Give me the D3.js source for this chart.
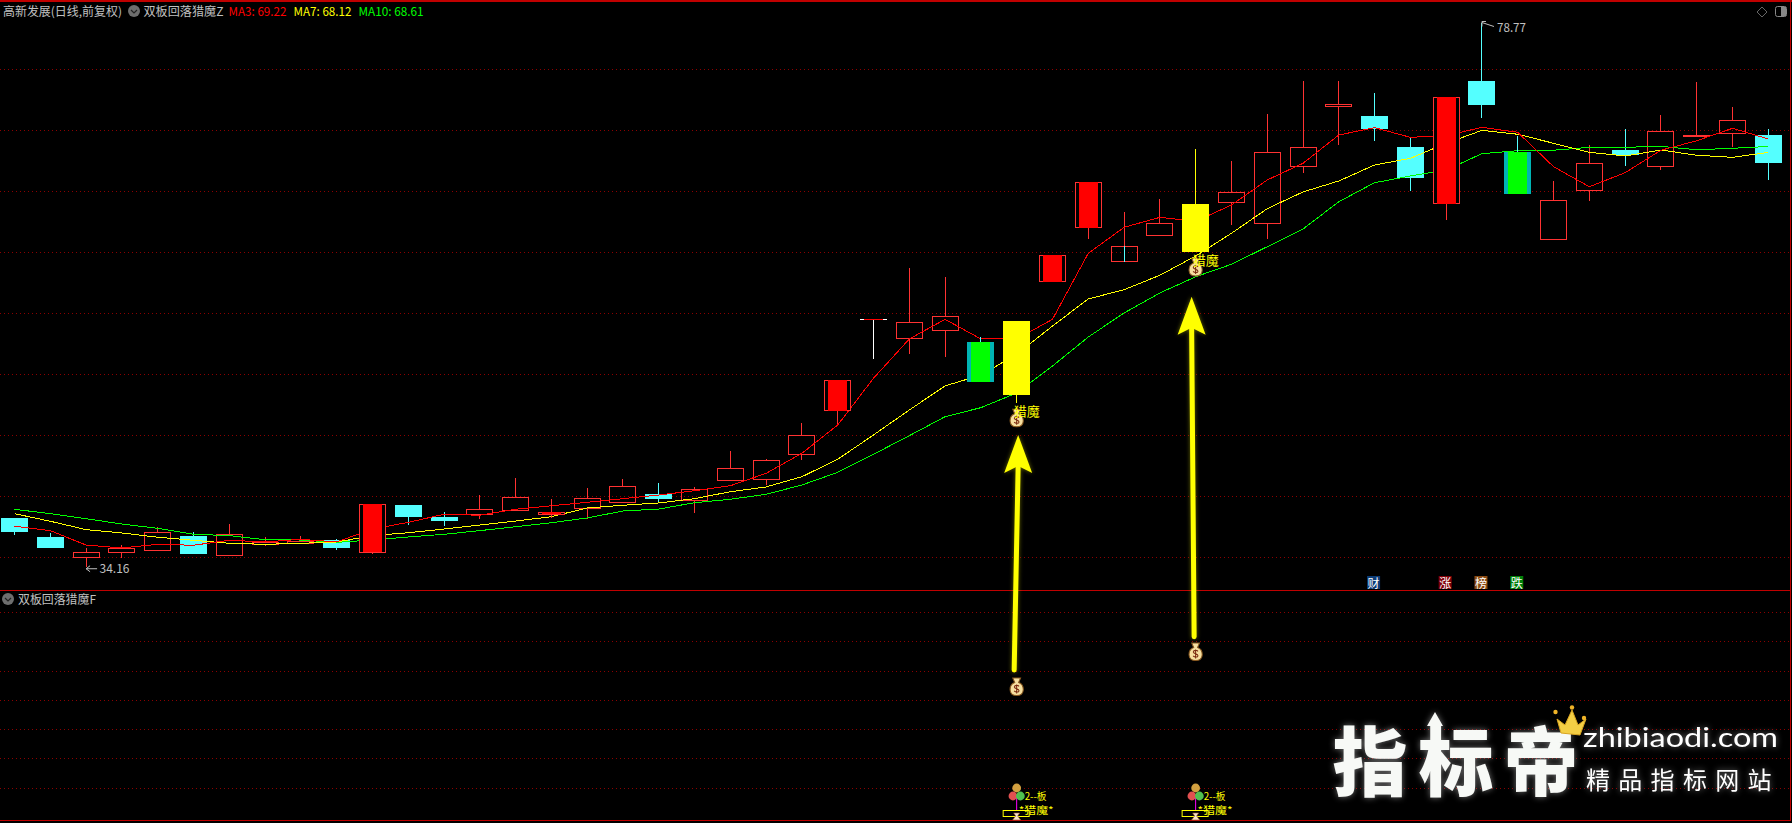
<!DOCTYPE html>
<html><head><meta charset="utf-8">
<style>
html,body{margin:0;padding:0;background:#000;overflow:hidden}
svg{display:block}
text{font-family:"Noto Sans CJK SC","Liberation Sans",sans-serif}
</style>
<script src="https://cdn.jsdelivr.net/npm/d3@7/dist/d3.min.js"></script>
</head><body><svg id="c" width="1792" height="823"></svg>
<script>
const kinds=["c","c","h","h","h","c","h","h","h","c","s","c","c","h","h","s","h","h","c","h","h","h","h","s","d","h","h","g","y","s","s","h","h","y","h","h","h","h","c","c","s","c","g","h","h","c","h","h","h","c"];
const bodyHigh=[38.16,36.60,35.35,35.67,36.98,36.68,36.82,36.21,36.30,36.35,39.30,39.22,38.24,38.87,39.88,38.65,39.80,40.75,40.12,40.51,42.23,42.89,44.94,49.44,54.44,54.20,54.74,52.58,54.30,59.69,65.67,60.43,62.31,63.89,64.85,68.13,68.54,72.07,71.11,68.57,72.64,73.98,68.18,64.20,67.23,68.32,69.85,69.57,70.75,69.55];
const bodyLow=[37.01,35.70,34.98,35.31,35.48,35.20,35.06,36.02,36.11,35.70,35.39,38.24,37.91,38.43,38.84,38.51,39.00,39.41,39.74,39.61,41.22,41.33,43.35,46.95,54.44,52.85,53.59,49.30,48.24,57.53,61.95,59.17,61.30,59.96,64.00,62.28,66.97,71.87,70.02,66.02,63.92,72.01,64.74,61.00,65.02,67.89,66.98,69.57,69.69,67.28];
const high=[38.16,36.93,35.70,35.94,37.39,37.01,37.66,36.60,36.68,36.44,39.30,39.22,38.65,40.04,41.44,39.71,40.61,41.35,41.02,40.70,43.65,42.99,45.94,49.44,54.44,58.65,57.91,52.97,54.30,59.69,65.67,63.24,64.30,68.40,67.42,71.27,73.98,73.98,72.99,69.30,72.64,78.77,69.47,65.75,68.73,70.04,71.19,73.89,71.84,70.04];
const low=[36.76,35.70,34.16,34.88,35.48,35.20,35.06,35.86,36.11,35.53,35.20,37.61,37.50,38.07,38.84,38.16,38.07,39.41,39.39,38.57,41.22,40.86,42.91,45.86,51.21,51.60,51.38,49.30,47.60,57.53,61.05,59.17,61.30,59.96,62.17,61.05,66.46,68.75,69.08,64.98,62.61,70.94,64.74,61.00,64.16,67.03,66.71,69.57,68.57,65.89];
const ma3=[37.48,37.12,35.94,35.70,36.00,35.92,36.33,36.19,36.41,36.19,37.25,37.80,38.46,38.38,38.87,39.16,39.44,39.74,40.04,40.39,40.80,41.82,43.46,45.78,49.61,52.83,54.44,52.83,52.83,54.44,59.85,61.98,62.80,62.47,63.81,65.86,67.23,69.55,70.15,69.36,69.49,70.18,69.77,66.95,65.31,66.46,68.30,69.08,70.10,69.22];
const ma7=[38.51,37.89,37.20,36.93,36.58,36.33,36.08,36.00,36.08,36.19,36.71,36.95,37.25,37.58,37.91,38.26,38.98,39.20,39.39,39.74,40.31,40.70,41.54,42.97,44.96,47.01,48.98,49.88,51.57,53.89,56.11,56.87,58.05,59.63,61.49,63.51,64.88,65.78,67.09,67.64,68.87,69.93,69.61,68.87,68.13,67.83,68.32,67.89,67.72,68.12];
const ma10=[38.87,38.51,38.10,37.66,37.31,36.82,36.71,36.38,36.35,36.16,36.35,36.60,36.82,37.12,37.44,37.77,38.16,38.73,38.89,39.41,39.69,40.10,40.86,41.90,43.38,44.90,46.46,47.20,48.40,50.61,52.99,54.96,56.60,57.93,58.95,60.39,61.84,64.08,65.64,66.19,66.68,68.02,68.26,68.30,68.54,68.54,68.62,68.34,68.46,68.61];
const priceTicks=[75,70,65,60,55,50,45,40,35];
const subTicks=[6,5,4,3,2,1,0];
const signalIdx=[28,33];
const newsLabels=["财","涨","榜","跌"];
const newsIdx=[38,40,41,42];
const newsFill=["#0b3b76","#800008","#8a4a12","#008008"];

const W=1792,H=823;
const svg=d3.select("#c");
const x=d3.scaleLinear().domain([0,49]).range([14.5,1768.3]);
const y=d3.scaleLinear().domain([75,35]).range([68.5,556.5]);
const ySub=d3.scaleLinear().domain([6,0]).range([612,787.5]);
const LINE="#c00000",UP="#ff3232",CY="#54ffff";
const crisp=g=>g.attr("shape-rendering","crispEdges");
const px=i=>Math.floor(x(i));

function grid(scale,vals){
  const g=svg.append("g").call(d3.axisRight(scale).tickValues(vals).tickSize(W-2).tickFormat(""));
  g.select(".domain").remove();
  g.selectAll("line").attr("stroke","#8c0000").attr("stroke-dasharray","1,3").attr("shape-rendering","crispEdges");
}
grid(y,priceTicks);grid(ySub,subTicks);

const frame=svg.append("g").call(crisp).attr("stroke",LINE).attr("stroke-width",1.5);
[[0,1,W,1],[0,590.5,1791,590.5],[0,820.5,1791,820.5],[1790.5,0,1790.5,821]].forEach(l=>
  frame.append("line").attr("x1",l[0]).attr("y1",l[1]).attr("x2",l[2]).attr("y2",l[3]));

const data=kinds.map((k,i)=>({k,i,top:bodyHigh[i],bot:bodyLow[i],hi:high[i],lo:low[i]}));
const colorOf=k=>k==="c"||k==="g"?CY:k==="y"?"#ffff00":k==="d"?"#ffffff":UP;
function wicks(g,rows){
  const s=g.append("g").call(crisp);
  rows.forEach(d=>{
    const X=px(d.i)+.5;
    s.append("line").attr("x1",X).attr("x2",X).attr("y1",y(d.hi)).attr("y2",y(d.top)).attr("stroke",colorOf(d.k));
    s.append("line").attr("x1",X).attr("x2",X).attr("y1",y(d.bot)).attr("y2",y(d.lo)).attr("stroke",colorOf(d.k));
  });
}
const under=svg.append("g");
wicks(under,data.filter(d=>"ch".includes(d.k)));
const u=under.append("g").call(crisp);
data.filter(d=>d.k==="c").forEach(d=>u.append("rect").attr("x",px(d.i)-13).attr("width",27).attr("y",y(d.top)).attr("height",Math.max(2,y(d.bot)-y(d.top))).attr("fill",CY));
data.filter(d=>d.k==="h").forEach(d=>u.append("rect").attr("x",px(d.i)-13+.5).attr("width",26).attr("y",Math.round(y(d.top))+.5).attr("height",Math.max(1,Math.round(y(d.bot)-y(d.top)))).attr("fill","none").attr("stroke",UP));
// cyan core seen inside one hollow body
{const d=data[31],X=px(31)+.5;u.append("line").attr("x1",X).attr("x2",X).attr("y1",y(d.top)).attr("y2",y(d.bot)).attr("stroke",CY);}

const lineGen=d3.line().x((v,i)=>x(i)).y(v=>y(v));
[[ma10,"#00ff00"],[ma7,"#ffff00"],[ma3,"#ff0000"]].forEach(([s,c])=>
  svg.append("path").attr("d",lineGen(s)).attr("fill","none").attr("stroke",c).attr("stroke-width",1).attr("shape-rendering","crispEdges"));

const over=svg.append("g");
wicks(over,data.filter(d=>"sgyd".includes(d.k)));
const o=over.append("g").call(crisp);
data.filter(d=>d.k==="s").forEach(d=>{
  const X=px(d.i),T=y(d.top),B=y(d.bot);
  o.append("rect").attr("x",X-13+.5).attr("width",26).attr("y",Math.round(T)+.5).attr("height",Math.max(1,Math.round(B-T))).attr("fill","#000").attr("stroke",UP);
  o.append("rect").attr("x",X-9).attr("width",19).attr("y",T).attr("height",Math.max(1,B-T)).attr("fill","#ff0000");
});
data.filter(d=>d.k==="g").forEach(d=>{
  const X=px(d.i),T=y(d.top),B=y(d.bot);
  o.append("rect").attr("x",X-13).attr("width",27).attr("y",T).attr("height",B-T).attr("fill","#00b4b4");
  o.append("rect").attr("x",X-9).attr("width",19).attr("y",T).attr("height",B-T).attr("fill","#00ff00");
});
data.filter(d=>d.k==="y").forEach(d=>{
  o.append("rect").attr("x",px(d.i)-13).attr("width",27).attr("y",y(d.top)).attr("height",y(d.bot)-y(d.top)).attr("fill","#ffff00");
});
data.filter(d=>d.k==="d").forEach(d=>{
  const X=px(d.i);
  o.append("rect").attr("x",X-13).attr("width",27).attr("y",y(d.top)).attr("height",1).attr("fill","#ffffff");
  o.append("rect").attr("x",X-9).attr("width",19).attr("y",y(d.top)).attr("height",1).attr("fill","#ff0000");
});

function txt(g,s,X,Y,fill,size,len,anchor){
  const t=g.append("text").attr("x",X).attr("y",Y).attr("fill",fill).attr("font-size",size).attr("dominant-baseline","central").text(s);
  if(len){t.attr("textLength",len).attr("lengthAdjust","spacingAndGlyphs");}
  if(anchor)t.attr("text-anchor",anchor);
  return t;
}
function chevron(g,X,Y){
  g.append("circle").attr("cx",X).attr("cy",Y).attr("r",6).attr("fill","#6e6e6e");
  g.append("path").attr("d",`M${X-3},${Y-1}L${X},${Y+2}L${X+3},${Y-1}`).attr("fill","none").attr("stroke","#222").attr("stroke-width",1.2);
}
const T=svg.append("g");
txt(T,"高新发展(日线,前复权)",3,10,"#c0c0c0",12,119);
chevron(T,134,11);
txt(T,"双板回落猎魔Z",143.5,10,"#c0c0c0",12,80);
txt(T,"MA3: "+ma3[49].toFixed(2),228.5,10,"#ff0000",12,58);
txt(T,"MA7: "+ma7[49].toFixed(2),293.5,10,"#ffff00",12,58);
txt(T,"MA10: "+ma10[49].toFixed(2),358.5,10,"#00ff00",12,65);
chevron(T,8,599);
txt(T,"双板回落猎魔F",18,598,"#c0c0c0",12,78);

// extreme price labels
const lowI=low.indexOf(d3.min(low)),highI=high.indexOf(d3.max(high));
T.append("path").attr("d",`M${x(lowI)+11},${y(low[lowI])+2}H${x(lowI)}M${x(lowI)+4},${y(low[lowI])-1}L${x(lowI)},${y(low[lowI])+2}L${x(lowI)+4},${y(low[lowI])+5}`).attr("fill","none").attr("stroke","#c0c0c0");
txt(T,d3.min(low).toFixed(2),99.5,567.5,"#c0c0c0",12,30);
T.append("path").attr("d",`M${x(highI)+12},${y(high[highI])+4}L${x(highI)},${y(high[highI])}M${x(highI)+4},${y(high[highI])-1}H${x(highI)}V${y(high[highI])+4}`).attr("fill","none").attr("stroke","#c0c0c0");
txt(T,d3.max(high).toFixed(2),1497,26.5,"#c0c0c0",12,29);

// news tags
newsLabels.forEach((s,i)=>{
  const X=x(newsIdx[i])-1;
  T.append("rect").attr("x",X-6.5).attr("y",576).attr("width",13).attr("height",13).attr("fill",newsFill[i]);
  txt(T,s,X,582,"#ffffff",12,null,"middle");
});

// top-right icons
T.append("path").attr("d","M1762,7L1767,12L1762,17L1757,12Z").attr("fill","none").attr("stroke","#666");
T.append("rect").attr("x",1775.5).attr("y",6.5).attr("width",11).attr("height",10).attr("rx",2).attr("fill","none").attr("stroke","#888");
T.append("rect").attr("x",1781).attr("y",7).attr("width",5).attr("height",9).attr("fill","#888");

function bag(g,X,Y){
  const b=g.append("g").attr("transform",`translate(${X},${Y}) scale(1.3)`);
  b.append("path").attr("d","M-3,-7L3,-7L1.5,-3.5C6,-2 7,6.5 0,6.5C-7,6.5 -6,-2 -1.5,-3.5Z").attr("fill","#f6dfa0").attr("stroke","#8a5a20").attr("stroke-width",.8);
  b.append("path").attr("d","M1.8,-0.5C1,-1.6 -1.8,-1.6 -1.8,0C-1.8,1.6 1.8,1 1.8,2.8C1.8,4.2 -1,4.2 -1.9,3M0,-2V5").attr("fill","none").attr("stroke","#7a2a10").attr("stroke-width",.8);
}
function arrow(g,tx,ty,bx,by){
  const a=g.append("g").style("filter","drop-shadow(0 0 2px rgba(190,190,0,.55))");
  a.append("line").attr("x1",bx).attr("y1",by).attr("x2",tx).attr("y2",ty+30).attr("stroke","#ffff00").attr("stroke-width",5).attr("stroke-linecap","round");
  a.append("path").attr("d",`M${tx},${ty}L${tx+14},${ty+38}L${tx},${ty+31}L${tx-14},${ty+38}Z`).attr("fill","#ffff00");
}
const M=svg.append("g");
const arrowTip=[435,296.7],arrowBase=[670,636.7],subBagY=[687,652];
signalIdx.forEach((idx,n)=>{
  const X=x(idx),d=data[idx];
  bag(M,X,y(d.lo)+15.5);
  txt(M,"猎魔",X-3,y(d.lo)+8,"#ffff00",13);
  arrow(M,X+(n?-4:1.5),arrowTip[n],X+(n?-1.5:-2.5),arrowBase[n]);
  bag(M,X,subBagY[n]);
  // bottom signal group
  const c=M.append("g");
  c.append("line").attr("x1",X).attr("x2",X).attr("y1",796).attr("y2",811).attr("stroke","#ff00ff");
  c.append("rect").attr("x",X-13.5).attr("y",810.5).attr("width",26).attr("height",6).attr("fill","none").attr("stroke","#ffff00");
  c.append("path").attr("d",`M${X-3},813H${X+3}L${X+1},816L${X+4},820H${X-4}L${X-1},816Z`).attr("fill","#f5e6c8").attr("stroke","#a05030").attr("stroke-width",.6);
  [[0,-22,"#d2a040"],[-3.7,-14,"#e05050"],[3.7,-14,"#50c050"]].forEach(b=>
    c.append("circle").attr("cx",X+b[0]).attr("cy",810+b[1]).attr("r",4.4).attr("fill",b[2]));
  txt(c,"2--板",X+8,795,"#ffff00",10,22);
  txt(c,"*猎魔*",X+2,809,"#ffff00",10,35);
});

// watermark
const wm=svg.append("g").style("filter","drop-shadow(0 0 3px rgba(255,255,255,.45))");
const WMC="#f7f9f6";
[["指",1370],["标",1456],["帝",1541]].forEach(([s,X])=>{
  wm.append("text").attr("x",X).attr("y",757).attr("text-anchor","middle").attr("dominant-baseline","central").attr("font-size",75).attr("font-weight",900).attr("fill",WMC).text(s);
});
wm.append("path").attr("d","M1435,712L1443,726H1438V745H1432V726H1427Z").attr("fill",WMC);
txt(wm,"zhibiaodi.com",1583,736,"#ffffff",27,195).style("font-family","Lato,'Open Sans',sans-serif");
["精","品","指","标","网","站"].forEach((s,i)=>{
  wm.append("text").attr("x",1598+i*32.3).attr("y",778).attr("text-anchor","middle").attr("dominant-baseline","central").attr("font-size",24).attr("fill","#ffffff").text(s);
});
const crown=svg.append("g");
crown.append("path").attr("d","M1557,719L1565,725L1572,710L1578,725L1586,719L1580,735L1561,733Z").attr("fill","#f4cf45").attr("stroke","#d9a520").attr("stroke-width",1);
[[1555.5,712],[1572,707.5],[1584,718]].forEach(p=>crown.append("circle").attr("cx",p[0]).attr("cy",p[1]).attr("r",2.2).attr("fill","#f0b428"));
</script></body></html>
